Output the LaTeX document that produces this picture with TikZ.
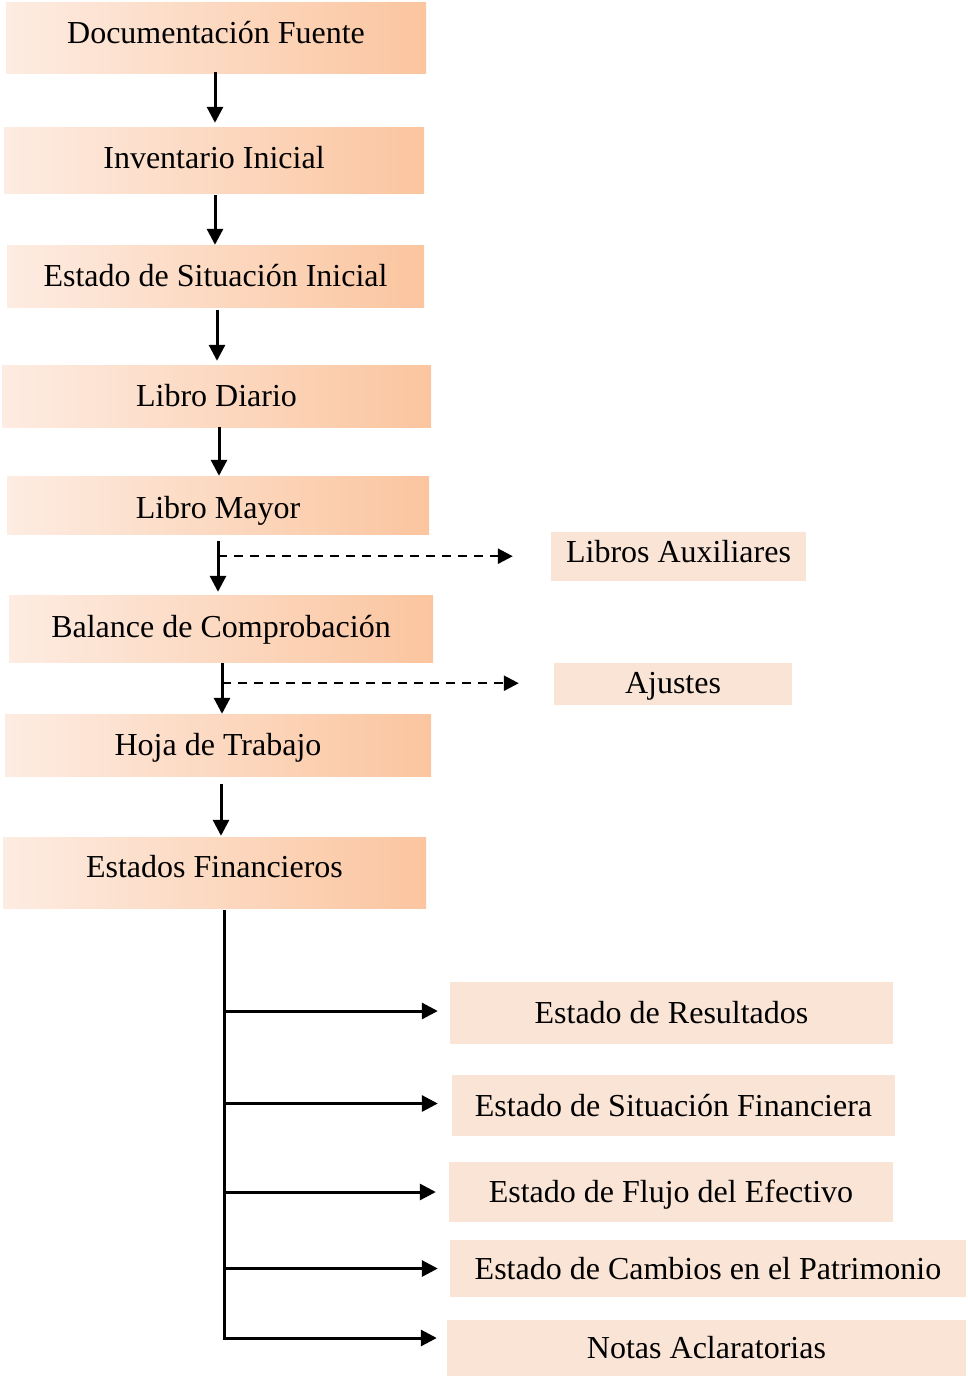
\documentclass[tikz,border=0pt]{standalone}
\usepackage{fontspec}
\setmainfont{Liberation Serif}
\usetikzlibrary{arrows.meta}
\definecolor{gradL}{HTML}{FDECE2}
\definecolor{gradR}{HTML}{FBC59F}
\definecolor{solidbox}{HTML}{FAE4D6}
\tikzset{
  boxtext/.style={inner sep=0pt, font=\fontsize{32}{36}\selectfont, text height=21pt, text depth=0pt},
  mainbox/.style={boxtext, left color=gradL, right color=gradR, draw=none},
  sidebox/.style={boxtext, fill=solidbox, draw=none},
  arr/.style={line width=3pt, -{Triangle[length=16pt,width=16pt]}},
  dasharr/.style={line width=2.5pt, dash pattern=on 9pt off 7pt, -{Triangle[length=15pt,width=15pt]}},
}
\begin{document}
\begin{tikzpicture}[x=1pt,y=-1pt]
\useasboundingbox (0,0) rectangle (967,1376);
\node[mainbox, minimum width=420pt, minimum height=71pt, text depth=10pt] (n1) at (216,37.5) {Documentación Fuente};
\node[mainbox, minimum width=420pt, minimum height=66pt, text depth=4pt] (n2) at (214,160) {Inventario Inicial};
\node[mainbox, minimum width=417pt, minimum height=62pt] (n3) at (215.5,276) {Estado de Situación Inicial};
\node[mainbox, minimum width=429pt, minimum height=62pt] (n4) at (216.5,396) {Libro Diario};
\node[mainbox, minimum width=422pt, minimum height=58pt, text height=27pt] (n5) at (218,505) {Libro Mayor};
\node[mainbox, minimum width=424pt, minimum height=67pt, text depth=4pt] (n6) at (221,628.5) {Balance de Comprobación};
\node[mainbox, minimum width=426pt, minimum height=62pt] (n7) at (218,745) {Hoja de Trabajo};
\node[mainbox, minimum width=423pt, minimum height=71pt, text depth=12pt] (n8) at (214.5,872.5) {Estados Financieros};
\node[sidebox, minimum width=255pt, minimum height=49pt, text depth=10pt] (aux) at (678.5,556.5) {Libros Auxiliares};
\node[sidebox, minimum width=238pt, minimum height=42pt, text depth=2pt] (aju) at (673,684) {Ajustes};
\node[sidebox, minimum width=443pt, minimum height=62pt] (res) at (671.5,1013) {Estado de Resultados};
\node[sidebox, minimum width=443pt, minimum height=61pt] (sf) at (673.5,1105.5) {Estado de Situación Financiera};
\node[sidebox, minimum width=444pt, minimum height=60pt] (fe) at (671,1192) {Estado de Flujo del Efectivo};
\node[sidebox, minimum width=516pt, minimum height=57pt] (cp) at (708,1268.5) {Estado de Cambios en el Patrimonio};
\node[sidebox, minimum width=519pt, minimum height=56pt] (na) at (706.5,1348) {Notas Aclaratorias};
% vertical flow
\draw[arr, shorten >=4pt] ([xshift=-1pt,yshift=1pt]n1.south) -- ([xshift=-1pt]n1.south |- n2.north);
\draw[arr] ([xshift=1pt,yshift=-2pt]n2.south) -- ([xshift=1pt]n2.south |- n3.north);
\draw[arr, shorten >=4pt] ([xshift=1.5pt,yshift=-3pt]n3.south) -- ([xshift=1.5pt]n3.south |- n4.north);
\draw[arr] ([xshift=2.5pt]n4.south) -- ([xshift=2.5pt]n4.south |- n5.north);
\draw[arr, shorten >=3pt] ([yshift=-7pt]n5.south) -- (n5.south |- n6.north);
\draw[arr] ([xshift=1pt,yshift=-1pt]n6.south) -- ([xshift=1pt]n6.south |- n7.north);
\draw[arr, shorten >=1pt] ([xshift=3pt,yshift=-8pt]n7.south) -- ([xshift=3pt]n7.south |- n8.north);
% dashed side arrows
\coordinate (d1) at ([yshift=-22pt]n5.south);
\draw[dasharr, shorten >=38pt] (d1) -- (d1 -| aux.west);
\coordinate (d2) at ([xshift=1pt,yshift=-21pt]n6.south);
\draw[dasharr, shorten >=35pt] (d2) -- (d2 -| aju.west);
% trunk and branches
\coordinate (t0) at ([xshift=9.5pt,yshift=-2pt]n8.south);
\draw[arr, shorten >=10pt] (t0) |- ([yshift=10pt]na.west);
\draw[arr, shorten >=12pt] ([yshift=2pt]t0 |- res.west) -- ([yshift=2pt]res.west);
\draw[arr, shorten >=14pt] ([yshift=2pt]t0 |- sf.west) -- ([yshift=2pt]sf.west);
\draw[arr, shorten >=13pt] (t0 |- fe.west) -- (fe.west);
\draw[arr, shorten >=12pt] (t0 |- cp.west) -- (cp.west);
\end{tikzpicture}
\end{document}
